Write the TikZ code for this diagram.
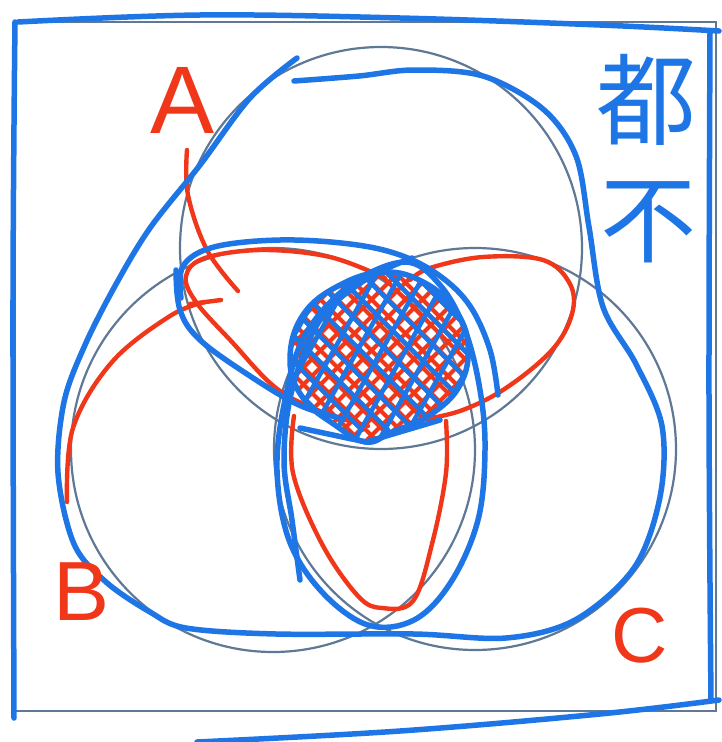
\documentclass[tikz,border=0pt]{standalone}
\usepackage{fontspec}
\setsansfont{Liberation Sans}
\newfontfamily\cjkfont{Noto Sans CJK SC}
\definecolor{penblue}{RGB}{30,118,230}
\definecolor{penred}{RGB}{240,55,25}
\definecolor{slate}{RGB}{95,120,150}
\tikzset{
  blueline/.style={penblue,line width=5.5pt,line cap=round,line join=round},
  redline/.style={penred,line width=4.4pt,line cap=round,line join=round},
  grayline/.style={slate,line width=2.2pt},
  redhatch/.style={penred,line width=4pt,line cap=round},
  bluehatch/.style={penblue,line width=4.6pt,line cap=round},
  lbl/.style={penred,font=\sffamily},
}
\begin{document}
\begin{tikzpicture}[x=1pt,y=-1pt]
\useasboundingbox (0,0) rectangle (721,742);
\fill[white] (0,0) rectangle (721,742);
% frame
\draw[grayline] (15,22) rectangle (716,711);
% gray circles
\draw[grayline] (381,248) circle[radius=201];
\draw[grayline] (273,450) circle[radius=202];
\draw[grayline] (475,449) circle[radius=201];
% hand-drawn frame
\draw[blueline] plot[smooth,tension=0.6] coordinates {(18,22) (200,15) (400,18) (600,25) (719,31)};
\draw[blueline] plot[smooth,tension=0.6] coordinates {(15,22) (13,300) (14,718)};
\draw[blueline] plot[smooth,tension=0.6] coordinates {(710,32) (709,400) (711,700)};
\draw[blueline] plot[smooth,tension=0.6] coordinates {(197,742) (400,731) (600,714) (719,700)};
% red pointers
\draw[redline] plot[smooth,tension=0.6] coordinates {(187,150) (188,195) (207,250) (238,291)};
\draw[redline] plot[smooth,tension=0.6] coordinates {(67,502) (73,428) (112,362) (170,316) (205,302)};
\draw[redline] (190,304) -- (221,300);
% red loops
\draw[redline] plot[smooth,tension=0.6] coordinates {(385,278) (330,257) (262,250) (205,258) (186,276) (196,302) (232,342) (276,388) (322,412) (368,426)};
\draw[redline] plot[smooth,tension=0.6] coordinates {(410,280) (430,268) (483,257) (543,260) (570,284) (572,314) (552,350) (506,388) (460,411) (414,421)};
\draw[redline] plot[smooth,tension=0.6] coordinates {(294,416) (293,473) (322,544) (358,596) (382,608) (413,601) (432,544) (446,473) (446,421)};
% red hatch
\begin{scope}
\clip plot[smooth cycle,tension=0.7] coordinates {(385,272) (425,283) (455,310) (468,345) (460,385) (430,415) (392,432) (366,442) (335,425) (303,398) (290,360) (303,315) (340,285)};
\foreach \x in {250,267,...,800} \draw[redhatch] (\x,200) -- ++(-250,250);
\foreach \x in {0,17,...,550} \draw[redhatch] (\x,200) -- ++(250,250);
\end{scope}
% blue union outline
\draw[blueline] plot[smooth,tension=0.55] coordinates {(297,58) (250,98) (200,165) (150,228) (115,286) (85,345) (64,402) (58,473) (74,544) (106,582) (150,612) (186,628) (276,634) (414,634) (506,638) (575,620) (634,568) (660,497) (662,426) (636,364) (603,307) (589,227) (576,156) (543,109) (483,76) (414,70) (359,76) (294,81)};
% blue lens top
\draw[blueline] plot[smooth,tension=0.6] coordinates {(181,298) (183,266) (214,247) (280,240) (350,244) (400,255) (440,276) (470,306) (490,350) (498,395)};
\draw[blueline] plot[smooth,tension=0.6] coordinates {(176,270) (180,310) (200,340) (250,376) (299,405) (340,418)};
% blue tall loop
\draw[blueline] plot[smooth cycle,tension=0.6] coordinates {(405,262) (350,285) (305,335) (285,400) (277,470) (289,540) (322,592) (368,625) (414,620) (451,582) (478,520) (485,450) (480,390) (465,330) (440,285)};
\draw[blueline] plot[smooth,tension=0.6] coordinates {(300,580) (292,520) (284,460) (292,390) (320,320) (365,280) (412,258)};
% blue hatch
\begin{scope}
\clip plot[smooth cycle,tension=0.7] coordinates {(385,272) (425,283) (455,310) (468,345) (460,385) (430,415) (392,432) (366,442) (335,425) (303,398) (290,360) (303,315) (340,285)};
\foreach \x in {300,324,...,640} \draw[bluehatch] (\x,240) -- ++(-130,230);
\foreach \x in {120,146,...,460} \draw[bluehatch] (\x,240) -- ++(190,190);
\end{scope}
\draw[blueline] plot[smooth cycle,tension=0.7] coordinates {(385,272) (425,283) (455,310) (468,345) (460,385) (430,415) (392,432) (366,442) (335,425) (303,398) (290,360) (303,315) (340,285)};
\draw[blueline] (300,428) -- (366,442) -- (440,420);
% labels
\node[lbl,font=\sffamily\fontsize{96}{96}\selectfont] (la) at (183,100) {A};
\node[lbl,font=\sffamily\fontsize{84}{84}\selectfont] (lb) at (82,592) {B};
\node[lbl,font=\sffamily\fontsize{78}{78}\selectfont] (lc) at (640,636) {C};
\node[penblue,font=\cjkfont\fontsize{100}{100}\selectfont] (ld) at (646,100) {都};
\node[penblue,font=\cjkfont\fontsize{96}{96}\selectfont] (le) at (648,222) {不};
\end{tikzpicture}
\end{document}
